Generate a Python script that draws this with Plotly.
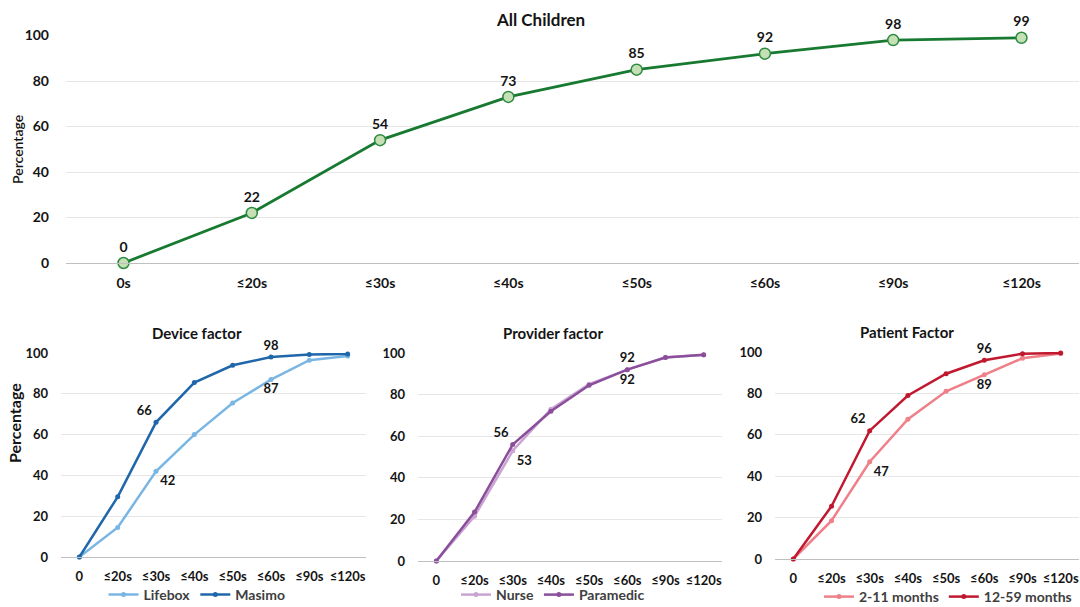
import plotly.graph_objects as go

# ---- data ----
top_categories = ["0s", "≤20s", "≤30s", "≤40s", "≤50s", "≤60s", "≤90s", "≤120s"]
sub_categories = ["0", "≤20s", "≤30s", "≤40s", "≤50s", "≤60s", "≤90s", "≤120s"]

all_children = [0, 22, 54, 73, 85, 92, 98, 99]

lifebox = [0, 14.5, 42, 60, 75.5, 87, 96.5, 98.5]
masimo = [0, 29.5, 66, 85.5, 94, 98, 99.3, 99.5]

nurse = [0, 21.5, 53, 73, 85, 92, 98, 99]
paramedic = [0, 23.5, 56, 72, 84.5, 92, 97.8, 99.2]

months_2_11 = [0, 18.5, 47, 67.5, 81, 89, 97, 99.3]
months_12_59 = [0, 25.5, 62, 79, 89.5, 96, 99.2, 99.5]

FONT = "Lato"
TXT = "#141414"
GRID = "#e6e6e6"
AXIS = "#bfbfbf"


def labels(values, idx):
    return [f"{v:.0f}" if i in idx else "" for i, v in enumerate(values)]


def positions(idx_pos):
    pos = ["top center"] * 8
    for i, p in idx_pos.items():
        pos[i] = p
    return pos


fig = go.Figure()

# top panel: all children
fig.add_trace(go.Scatter(
    x=top_categories, y=all_children, mode="lines+markers+text",
    text=labels(all_children, range(8)), textposition="top center",
    textfont=dict(family=FONT, size=14, color=TXT, weight="bold"),
    line=dict(color="#187a31", width=2.8),
    marker=dict(size=11, color="#c5e0b4", line=dict(color="#2a8a3f", width=1.5)),
    cliponaxis=False, showlegend=False, xaxis="x", yaxis="y",
))

sub_font = dict(family=FONT, size=13, color=TXT, weight="bold")


def add_pair(names, series, colors, axis_idx, legend_name, label_pos):
    for name, vals, col, lp in zip(names, series, colors, label_pos):
        fig.add_trace(go.Scatter(
            x=sub_categories, y=vals, name=name, mode="lines+markers+text",
            text=labels(vals, lp.keys()), textposition=positions(lp),
            textfont=sub_font,
            line=dict(color=col, width=2.5),
            marker=dict(size=5, color=col),
            cliponaxis=False, legend=legend_name,
            xaxis=f"x{axis_idx}", yaxis=f"y{axis_idx}",
        ))


add_pair(["Lifebox", "Masimo"], [lifebox, masimo], ["#7ab6e4", "#1f67aa"], 2, "legend",
         [{2: "bottom right", 5: "bottom center"}, {2: "top left", 5: "top center"}])
add_pair(["Nurse", "Paramedic"], [nurse, paramedic], ["#c9a4d3", "#8a4e9b"], 3, "legend2",
         [{2: "bottom right", 5: "bottom center"}, {2: "top left", 5: "top center"}])
add_pair(["2-11 months", "12-59 months"], [months_2_11, months_12_59], ["#ef8089", "#c0182e"], 4, "legend3",
         [{2: "bottom right", 5: "bottom center"}, {2: "top left", 5: "top center"}])

W, H = 1080, 607


def px_x(a, b):
    return [a / W, b / W]


def px_y(top, bottom):
    return [(H - bottom) / H, (H - top) / H]


def xax(domain, anchor, cats, size):
    return dict(domain=domain, anchor=anchor, type="category",
                categoryorder="array", categoryarray=cats,
                showgrid=False, showline=True, linecolor=AXIS, linewidth=1,
                ticks="", ticklabelstandoff=7,
                tickfont=dict(family=FONT, size=size, color=TXT, weight="bold"),
                fixedrange=True)


def yax(domain, anchor, size, standoff):
    return dict(domain=domain, anchor=anchor, range=[0, 100], dtick=20,
                showgrid=True, gridcolor=GRID, gridwidth=1, zeroline=False,
                showline=False, ticks="", ticklabelstandoff=standoff,
                tickfont=dict(family=FONT, size=size, color=TXT, weight="bold"),
                fixedrange=True)


legend_common = dict(orientation="h", xanchor="center", yanchor="middle",
                     font=dict(family=FONT, size=14, color="#404040", weight="bold"),
                     bgcolor="rgba(0,0,0,0)", itemwidth=30, tracegroupgap=0,
                     traceorder="normal")

fig.update_layout(
    width=W, height=H,
    margin=dict(l=0, r=0, t=0, b=0, autoexpand=False),
    paper_bgcolor="white", plot_bgcolor="white",
    xaxis=xax(px_x(66, 1079), "y", top_categories, 14),
    yaxis=yax(px_y(35.5, 263), "x", 14, 16),
    xaxis2=xax(px_x(61, 366), "y2", sub_categories, 13),
    yaxis2=yax(px_y(353, 557), "x2", 13, 12),
    xaxis3=xax(px_x(418, 722), "y3", sub_categories, 13),
    yaxis3=yax(px_y(353, 561), "x3", 13, 12),
    xaxis4=xax(px_x(775, 1079), "y4", sub_categories, 13),
    yaxis4=yax(px_y(352, 559), "x4", 13, 12),
    legend=dict(x=197 / W, y=(H - 595) / H, **legend_common),
    legend2=dict(x=553 / W, y=(H - 595) / H, **legend_common),
    legend3=dict(x=948 / W, y=(H - 597) / H, **legend_common),
)

title_font = dict(family=FONT, color=TXT, weight="bold")
annotations = [
    dict(text="All Children", x=540 / W, y=(H - 20) / H, font=dict(size=17, **title_font)),
    dict(text="Device factor", x=197 / W, y=(H - 333) / H, font=dict(size=15, **title_font)),
    dict(text="Provider factor", x=553 / W, y=(H - 333) / H, font=dict(size=15, **title_font)),
    dict(text="Patient Factor", x=907 / W, y=(H - 332) / H, font=dict(size=15, **title_font)),
    dict(text="Percentage", x=17 / W, y=(H - 150) / H, textangle=-90,
         font=dict(family=FONT, size=14, color=TXT, weight=600)),
    dict(text="Percentage", x=14 / W, y=(H - 423) / H, textangle=-90,
         font=dict(size=16, **title_font)),
]
for a in annotations:
    a.update(xref="paper", yref="paper", showarrow=False, xanchor="center", yanchor="middle")
fig.update_layout(annotations=annotations)

fig.write_html("out.html")
